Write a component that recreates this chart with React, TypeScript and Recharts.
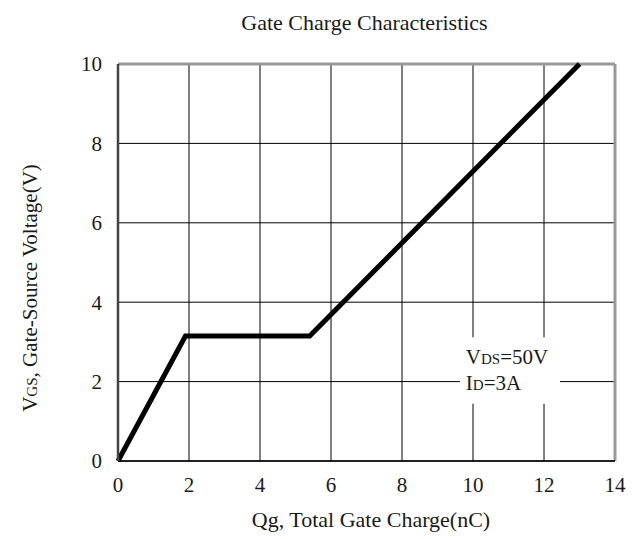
import React from "react";
import {
  LineChart,
  Line,
  XAxis,
  YAxis,
  CartesianGrid,
  ReferenceLine,
  ReferenceArea,
} from "recharts";

// gate charge curve
const qgNc = [0, 1.9, 5.4, 13];
const vgsV = [0, 3.15, 3.15, 10];

const xTicks = [0, 2, 4, 6, 8, 10, 12, 14];
const yTicks = [0, 2, 4, 6, 8, 10];

const FONT = '"Liberation Serif", "DejaVu Serif", serif';
const INK = "#1a1a1a";

const data = qgNc.map((q, i) => ({ q, v: vgsV[i] }));

function NoteLabel(props: any) {
  const { x, y } = props.viewBox ?? {};
  return (
    <g fontFamily={FONT} fill={INK}>
      <text x={x + 6} y={y + 27} fontSize={21}>
        V<tspan fontSize={15}>DS</tspan>=50V
      </text>
      <text x={x + 6} y={y + 53} fontSize={21}>
        I<tspan fontSize={15}>D</tspan>=3A
      </text>
    </g>
  );
}

function YLabel() {
  return (
    <text
      x={37}
      y={288}
      transform="rotate(-90 37 288)"
      textAnchor="middle"
      fontFamily={FONT}
      fontSize={21}
      fill={INK}
    >
      V<tspan fontSize={15}>GS</tspan>, Gate-Source Voltage(V)
    </text>
  );
}

function XLabel() {
  return (
    <text x={371} y={527} textAnchor="middle" fontFamily={FONT} fontSize={22} fill={INK}>
      Qg, Total Gate Charge(nC)
    </text>
  );
}

export default function App() {
  return (
    <div style={{ position: "absolute", left: 0, top: 0, width: 638, height: 539, background: "#fff" }}>
      <div
        style={{
          position: "absolute",
          left: 0,
          width: 729,
          top: 10,
          textAlign: "center",
          fontFamily: FONT,
          fontSize: 22,
          color: INK,
          lineHeight: "26px",
        }}
      >
        Gate Charge Characteristics
      </div>
      <LineChart
        width={638}
        height={539}
        data={data}
        margin={{ top: 64, right: 23, bottom: 48, left: 58 }}
      >
        <CartesianGrid stroke="#000" strokeWidth={1} />
        <XAxis
          dataKey="q"
          type="number"
          domain={[0, 14]}
          ticks={xTicks}
          height={30}
          tickLine={false}
          tickSize={0}
          tickMargin={16}
          axisLine={{ stroke: "#000", strokeWidth: 1.5 }}
          tick={{ fontSize: 21, fontFamily: FONT, fill: INK }}
          label={{ content: () => <XLabel /> }}
        />
        <YAxis
          type="number"
          domain={[0, 10]}
          ticks={yTicks}
          width={60}
          tickLine={false}
          tickSize={0}
          tickMargin={16}
          axisLine={{ stroke: "#444", strokeWidth: 2.5 }}
          tick={{ fontSize: 21, fontFamily: FONT, fill: INK }}
          label={{ content: () => <YLabel /> }}
        />
        <ReferenceLine y={10} stroke="#999" strokeWidth={3} />
        <ReferenceLine x={14} stroke="#999" strokeWidth={3} />
        <ReferenceArea
          x1={9.63}
          x2={12.45}
          y1={1.44}
          y2={3.12}
          fill="#fff"
          fillOpacity={1}
          stroke="none"
          label={(p: any) => <NoteLabel {...p} />}
        />
        <Line
          dataKey="v"
          type="linear"
          stroke="#000"
          strokeWidth={5}
          strokeLinejoin="miter"
          dot={false}
          activeDot={false}
          isAnimationActive={false}
        />
      </LineChart>
    </div>
  );
}
